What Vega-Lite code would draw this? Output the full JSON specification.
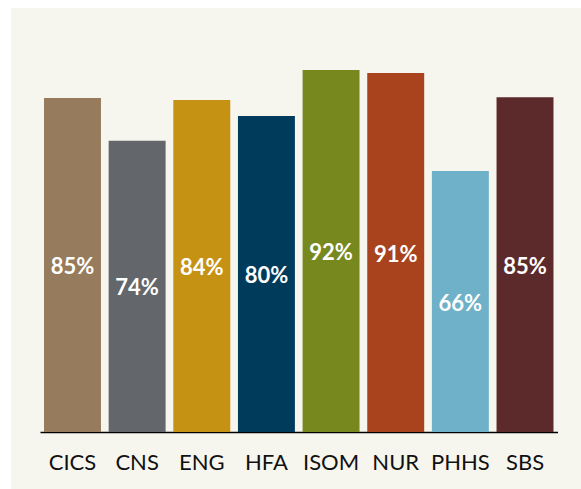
{
  "$schema": "https://vega.github.io/schema/vega-lite/v6.json",
  "width": 570,
  "height": 481,
  "autosize": {"type": "none"},
  "padding": {"left": 11, "top": 8, "right": 0, "bottom": 0},
  "background": "#ffffff",
  "config": {
    "view": {"fill": "#f7f6ee", "stroke": null},
    "font": "Lato"
  },
  "data": {
    "values": [
      {"school": "CICS", "v": 0.849},
      {"school": "CNS", "v": 0.740},
      {"school": "ENG", "v": 0.844},
      {"school": "HFA", "v": 0.803},
      {"school": "ISOM", "v": 0.920},
      {"school": "NUR", "v": 0.912},
      {"school": "PHHS", "v": 0.663},
      {"school": "SBS", "v": 0.851}
    ]
  },
  "encoding": {
    "x": {
      "field": "school",
      "type": "nominal",
      "sort": null,
      "scale": {"range": [29, 546.5], "paddingInner": 0.119, "paddingOuter": 0.062},
      "axis": {
        "title": null,
        "orient": "bottom",
        "offset": -57,
        "labelAngle": 0,
        "ticks": false,
        "domainColor": "#000000",
        "domainWidth": 1.6,
        "labelFont": "Lato",
        "labelFontSize": 22,
        "labelColor": "#111111",
        "labelPadding": 20
      }
    }
  },
  "layer": [
    {
      "mark": {"type": "bar"},
      "encoding": {
        "y": {
          "field": "v",
          "type": "quantitative",
          "scale": {"domain": [-0.1449, 1.0775], "nice": false, "zero": false},
          "axis": null
        },
        "color": {
          "field": "school",
          "type": "nominal",
          "scale": {
            "domain": ["CICS", "CNS", "ENG", "HFA", "ISOM", "NUR", "PHHS", "SBS"],
            "range": ["#967b5c", "#63666a", "#c69214", "#003b5c", "#77881f", "#a8431e", "#6fb1c8", "#5d2a2c"]
          },
          "legend": null
        }
      }
    },
    {
      "mark": {"type": "text", "color": "#ffffff", "font": "Lato", "fontWeight": "bold", "fontSize": 22, "baseline": "middle", "dy": 2},
      "encoding": {
        "y": {"field": "v", "type": "quantitative", "stack": "zero", "bandPosition": 0.5},
        "text": {"field": "v", "type": "quantitative", "format": ".0%"}
      }
    }
  ]
}
